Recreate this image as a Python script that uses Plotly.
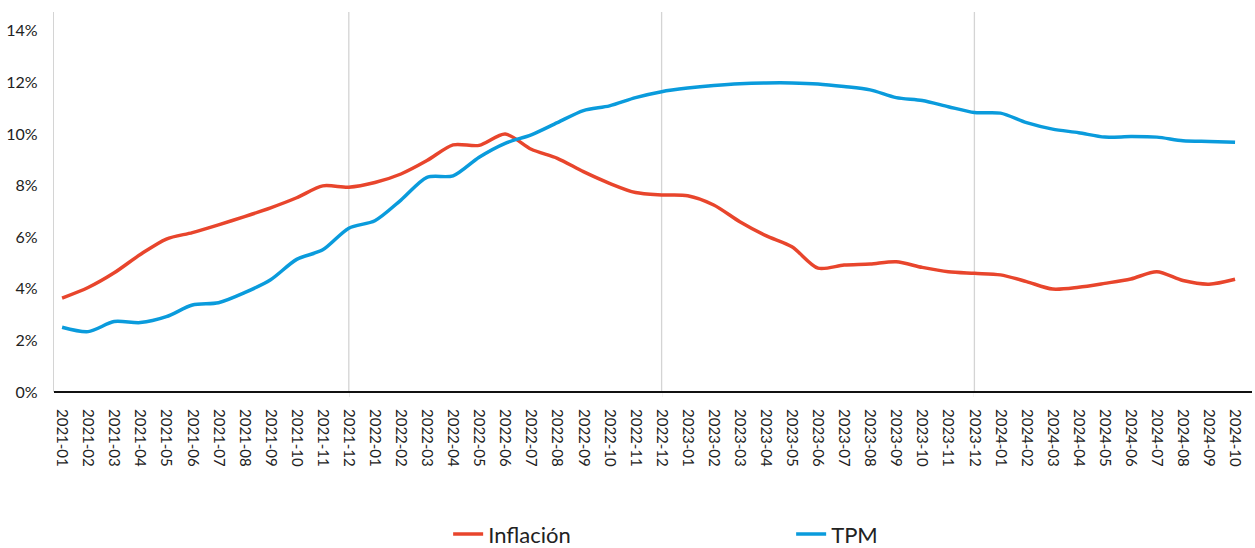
import plotly.graph_objects as go

# Monthly categories 2021-01 .. 2024-10
months = [f"{y}-{m:02d}" for y in range(2021, 2025) for m in range(1, 13)][:46]

inflacion = [3.64, 4.05, 4.62, 5.33, 5.93, 6.18, 6.48, 6.80, 7.14, 7.53, 7.99, 7.94,
             8.12, 8.45, 8.97, 9.58, 9.56, 10.00, 9.41, 9.06, 8.54, 8.09, 7.73, 7.64,
             7.61, 7.25, 6.60, 6.06, 5.63, 4.80, 4.92, 4.96, 5.05, 4.83, 4.66, 4.60,
             4.54, 4.28, 3.99, 4.06, 4.21, 4.38, 4.66, 4.32, 4.18, 4.37]

tpm = [2.51, 2.34, 2.73, 2.69, 2.92, 3.37, 3.46, 3.85, 4.35, 5.14, 5.51, 6.35,
       6.64, 7.44, 8.32, 8.38, 9.10, 9.64, 9.97, 10.44, 10.91, 11.09, 11.41, 11.64,
       11.78, 11.88, 11.95, 11.98, 11.98, 11.94, 11.84, 11.71, 11.41, 11.30, 11.06, 10.83,
       10.81, 10.44, 10.19, 10.05, 9.88, 9.90, 9.88, 9.74, 9.71, 9.68]

year_end_marks = ["2021-12", "2022-12", "2023-12"]

RED = "#E8452C"
BLUE = "#0A9BDC"
FONT = "Lato"

fig = go.Figure()
fig.add_trace(go.Scatter(x=months, y=inflacion, name="Inflación", mode="lines",
                         line=dict(color=RED, width=3.5, shape="spline", smoothing=0.8)))
fig.add_trace(go.Scatter(x=months, y=tpm, name="TPM", mode="lines",
                         line=dict(color=BLUE, width=3.5, shape="spline", smoothing=0.8)))

for m in year_end_marks:
    fig.add_shape(type="line", xref="x", yref="paper", x0=m, x1=m, y0=-0.013, y1=1,
                  line=dict(color="#D4D4D4", width=1.3), layer="below")

fig.update_layout(
    width=1255, height=548,
    margin=dict(l=54, r=3, t=12, b=156, autoexpand=False),
    paper_bgcolor="white", plot_bgcolor="white",
    font=dict(family=FONT, color="#222222"),
    showlegend=True,
    legend=dict(orientation="h", xref="paper", x=0.329, xanchor="left",
                yref="container", y=0.025, yanchor="middle",
                font=dict(size=22, family=FONT, color="#222222"),
                entrywidth=298, entrywidthmode="pixels"),
    xaxis=dict(type="category", categoryorder="array", categoryarray=months,
               tickmode="array", tickvals=months, ticktext=months,
               tickangle=90, tickfont=dict(size=15, family=FONT, color="#222222"),
               range=[-0.31, 45.65], showgrid=False, zeroline=False, automargin=False,
               showline=False, ticks="outside", ticklen=13, tickwidth=0.1,
               tickcolor="white"),
    yaxis=dict(range=[0, 14.73], tickmode="array", tickvals=list(range(0, 15, 2)),
               ticktext=[f"{v}%" for v in range(0, 15, 2)],
               tickfont=dict(size=16, family=FONT, color="#222222"),
               showgrid=False, zeroline=True, zerolinecolor="#111111", zerolinewidth=1.5,
               showline=True, linecolor="#D4D4D4", linewidth=1.3, automargin=False,
               ticks="", ticklabelstandoff=12),
)

fig.write_html("out.html")
